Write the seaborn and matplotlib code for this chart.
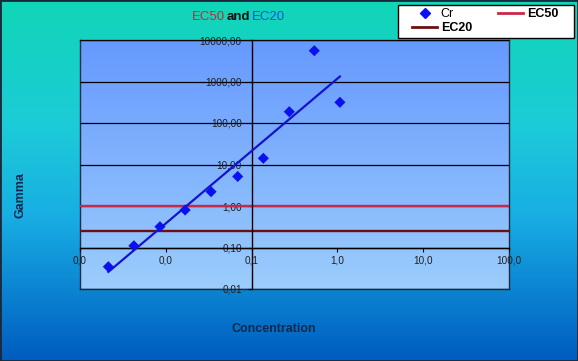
import matplotlib
matplotlib.use("Agg")
import matplotlib.pyplot as plt
import numpy as np
import seaborn as sns
from matplotlib.colors import LinearSegmentedColormap
from matplotlib.lines import Line2D
from matplotlib.patches import Rectangle
from matplotlib.ticker import FixedLocator, FuncFormatter, NullLocator

# data
conc = [0.00214, 0.00425, 0.00855, 0.0168, 0.0337, 0.0689, 0.137, 0.275, 0.538, 1.07]
gamma = [0.0344, 0.110, 0.317, 0.80, 2.21, 5.14, 14.1, 187, 5520, 315]
ec50 = 1.0
ec20 = 0.243
x_ticks = [0.001, 0.01, 0.1, 1, 10, 100]
y_ticks = [0.01, 0.1, 1, 10, 100, 1000, 10000]

plt.rcParams['font.family'] = ['Liberation Sans', 'DejaVu Sans']

fig = plt.figure(figsize=(5.78, 3.61), dpi=100)
grad = np.linspace(0, 1, 256).reshape(-1, 1)

# outer background gradient
bg = fig.add_axes([0, 0, 1, 1], zorder=-10)
bg_cmap = LinearSegmentedColormap.from_list(
    'bg', [(0, '#10d6b6'), (0.35, '#1ccbd8'), (0.6, '#18aee4'), (1, '#005cc0')])
bg.imshow(grad, cmap=bg_cmap, aspect='auto', extent=[0, 1, 0, 1])
bg.set_xlim(0, 1)
bg.set_ylim(0, 1)
bg.set_xticks([])
bg.set_yticks([])
for s in bg.spines.values():
    s.set_color('#1a2a3c')
    s.set_linewidth(2)

# plot area gradient
pos = [80 / 578, 1 - 289 / 361, 429 / 578, 249 / 361]
pa = fig.add_axes(pos, zorder=-5)
pa_cmap = LinearSegmentedColormap.from_list('pa', ['#6699ff', '#9ccdfc'])
pa.imshow(grad, cmap=pa_cmap, aspect='auto', extent=[0, 1, 0, 1])
pa.set_xlim(0, 1)
pa.set_ylim(0, 1)
pa.set_xticks([])
pa.set_yticks([])
for s in pa.spines.values():
    s.set_color('#1c2c40')
    s.set_linewidth(1)

ax = fig.add_axes(pos)
ax.set_facecolor('none')
ax.set_xscale('log')
ax.set_yscale('log')

# power trend line fitted in log space
slope, icpt = np.polyfit(np.log10(conc), np.log10(gamma), 1)
trend_x = np.array([conc[0], conc[-1]])
trend_y = 10 ** (icpt + slope * np.log10(trend_x))

ax.axhline(ec50, color='#c8284a', lw=1.7, zorder=2)
ax.axhline(ec20, color='#6e1010', lw=1.7, zorder=2)
sns.lineplot(x=trend_x, y=trend_y, color='#1414cc', lw=1.6, ax=ax, zorder=3, legend=False)
sns.scatterplot(x=conc, y=gamma, marker='D', s=32, color='#0a10f0', edgecolor='none',
                ax=ax, zorder=4, legend=False)

ax.set_xlim(0.001, 100)
ax.set_ylim(0.01, 10000)

ax.spines['left'].set_position(('data', 0.1))
ax.spines['bottom'].set_position(('data', 0.1))
ax.spines['top'].set_visible(False)
ax.spines['right'].set_visible(False)
for s in ['left', 'bottom']:
    ax.spines[s].set_color('black')
    ax.spines[s].set_linewidth(1)

ax.xaxis.set_major_locator(FixedLocator(x_ticks))
ax.yaxis.set_major_locator(FixedLocator(y_ticks))
ax.xaxis.set_minor_locator(NullLocator())
ax.yaxis.set_minor_locator(NullLocator())
ax.xaxis.set_major_formatter(FuncFormatter(lambda v, p: f'{v:.1f}'.replace('.', ',')))
ax.yaxis.set_major_formatter(FuncFormatter(lambda v, p: f'{v:.2f}'.replace('.', ',')))
ax.tick_params(axis='both', direction='out', length=3, width=0.8,
               labelsize=7.2, labelcolor='#202020')
ax.tick_params(axis='y', pad=4)
ax.tick_params(axis='x', pad=3)
ax.yaxis.grid(True, color='black', lw=0.9)
ax.xaxis.grid(False)
ax.set_axisbelow(True)
ax.set_xlabel('')
ax.set_ylabel('')

# axis titles
fig.text(21 / 578, 1 - 195 / 361, 'Gamma', rotation=90, weight='bold', color='#14284a',
         fontsize=9, ha='center', va='center')
fig.text(274 / 578, 1 - 329 / 361, 'Concentration', weight='bold', color='#14284a',
         fontsize=9, ha='center', va='center')

# chart title in three colours
ty = 1 - 16.5 / 361
fig.text(225 / 578, ty, 'EC50', color='#c02c2c', fontsize=9.5, ha='right', va='center')
fig.text(238 / 578, ty, 'and', color='#101010', fontsize=9.5, weight='bold', ha='center', va='center')
fig.text(252 / 578, ty, 'EC20', color='#1a50e8', fontsize=9.5, ha='left', va='center')

# legend box drawn separately so the entries sit where the reference has them
fig.patches.append(Rectangle((398 / 578, 1 - 38 / 361), 176 / 578, 33 / 361,
                             transform=fig.transFigure, facecolor='white',
                             edgecolor='black', lw=1, zorder=1))
handles = [
    Line2D([], [], marker='D', color='#0a10f0', ls='none', markersize=5),
    Line2D([], [], color='#6e1010', lw=2),
    Line2D([], [], color='#c8284a', lw=2),
]
labels = ['Cr', 'EC20', 'EC50']
leg = fig.legend(handles, labels, ncol=2, loc='upper left',
                 bbox_to_anchor=(412 / 578, 1 - 8 / 361), borderaxespad=0,
                 fontsize=9, frameon=False, handlelength=2.0, handletextpad=0.3,
                 columnspacing=2.1, borderpad=0, labelspacing=0.15)
for t in leg.get_texts()[1:]:
    t.set_fontweight('bold')

fig.savefig('out.png', dpi=100)
